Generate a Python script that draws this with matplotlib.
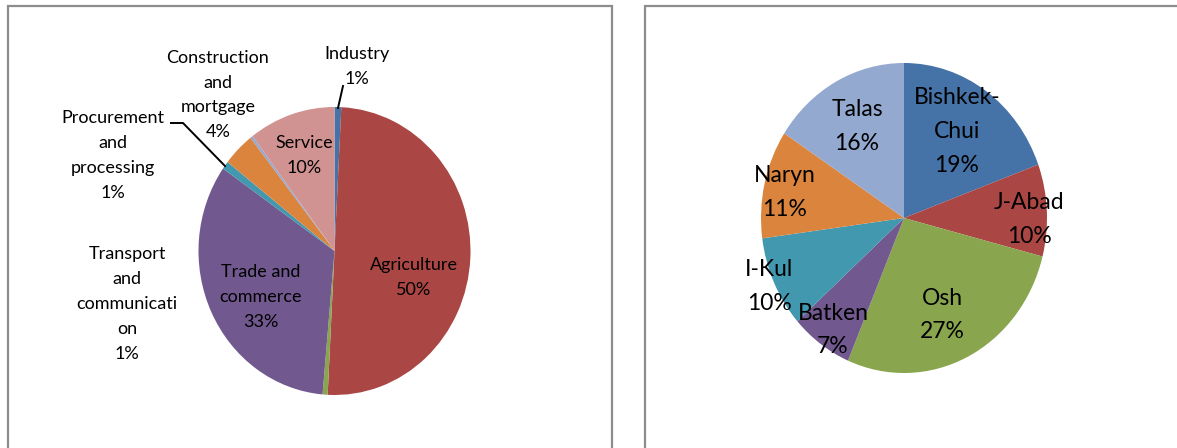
import matplotlib
matplotlib.use('Agg')
import matplotlib.pyplot as plt
from matplotlib.patches import Rectangle
from matplotlib.lines import Line2D

plt.rcParams['font.family'] = ['Lato', 'DejaVu Sans']

W, H = 1177, 448

# sector shares (percent), clockwise from 12 o'clock
sector_names = ['Industry', 'Agriculture', 'Transport\nand\ncommunicati\non',
                'Trade and\ncommerce', 'Procurement\nand\nprocessing',
                'Construction\nand\nmortgage', '', 'Service']
sector_values = [0.8, 50.0, 0.6, 33.3, 0.9, 3.8, 0.3, 10.3]

# regional shares (percent), clockwise from 12 o'clock
region_names = ['Bishkek-\nChui', 'J-Abad', 'Osh', 'Batken', 'I-Kul', 'Naryn', 'Talas']
region_values = [19.4, 9.6, 27.4, 7.0, 9.5, 11.3, 15.8]

palette = ['#4572A7', '#AA4643', '#89A54E', '#71588F', '#4198AF',
           '#DB843D', '#93A9CF', '#D19392']


def px(x, y):
    return x / W, 1 - y / H


def pie_axes(fig, cx, cy, rx, ry):
    l, b = px(cx - rx, cy + ry)
    ax = fig.add_axes([l, b, 2 * rx / W, 2 * ry / H])
    return ax


def draw_pie(ax, values, n):
    ax.pie(values, colors=palette[:n], startangle=90, counterclock=False,
           wedgeprops=dict(linewidth=0))
    ax.set_aspect('auto')
    ax.set_xlim(-1, 1)
    ax.set_ylim(-1, 1)


def label(fig, name, value, x, y, size, spacing):
    if not name:
        return
    fx, fy = px(x, y)
    fig.text(fx, fy, f"{name}\n{value:.0f}%", ha='center', va='center',
             fontsize=size, linespacing=spacing, color='black')


fig = plt.figure(figsize=(W / 100, H / 100), dpi=100)

# panel frames
for x0, x1 in [(8, 612), (645, 1185)]:
    l, b = px(x0, 460)
    fig.patches.append(Rectangle((l, b), (x1 - x0) / W, (460 - 6) / H,
                                 transform=fig.transFigure, fill=False,
                                 edgecolor='#8c8c8c', linewidth=1.6))

ax1 = pie_axes(fig, 334.5, 251, 136, 144)
draw_pie(ax1, sector_values, len(sector_values))

ax2 = pie_axes(fig, 904, 218, 143, 155)
draw_pie(ax2, region_values, len(region_values))

left_pos = [(357, 66.5), (414, 277.5), (127, 304), (261, 297), (113, 155.5),
            (218, 95), None, (304, 155.5)]
for name, v, p in zip(sector_names, sector_values, left_pos):
    if p:
        label(fig, name, v, p[0], p[1], 13, 1.68)

right_pos = [(957, 131.5), (1029, 219.5), (942, 315), (833, 330),
             (769, 286.5), (785, 192.5), (857, 126.5)]
for name, v, p in zip(region_names, region_values, right_pos):
    label(fig, name, v, p[0], p[1], 16.5, 1.75)

# leader lines
for xs, ys in [([338, 343], [108, 86]),
               ([171, 183, 225], [123, 123, 166])]:
    pts = [px(x, y) for x, y in zip(xs, ys)]
    fig.lines.append(Line2D([p[0] for p in pts], [p[1] for p in pts],
                            transform=fig.transFigure, color='black', linewidth=1.4))

fig.savefig('out.png', dpi=100)
